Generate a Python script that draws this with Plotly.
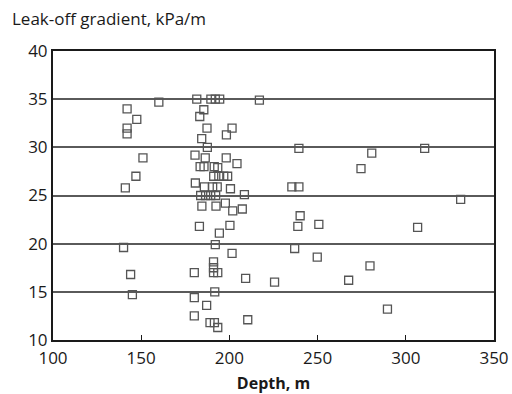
import plotly.graph_objects as go

# leak-off tests
depth = [
    160, 142, 147.5, 142, 142, 151, 147, 141, 140, 144, 145,
    181.5, 189.5, 192, 194.5, 217, 185.5, 183.2, 187.3, 201.5, 198.3,
    184.3, 187.5, 180.5, 186.3, 198.2, 204.3, 183.4, 185.6, 191.4, 193.4,
    191.1, 194.0, 196.8, 199.0, 180.7, 185.8, 190.5, 193.1, 200.6, 208.5,
    183.7, 186.5, 189.4, 192.2, 184.4, 192.4, 197.7, 201.9, 207.3,
    183, 200.3, 194.3, 192, 201.5, 191, 191, 191, 193.4, 180.1, 209.2,
    191.7, 180.1, 187.1, 180.1, 210.4, 189, 191.5, 193.4,
    225.6, 235.4, 239.4, 239.4, 240.1, 238.8, 250.7, 237, 249.8, 267.6,
    274.6, 280.7, 279.7, 289.6, 306.7, 310.7, 331.1,
]
gradient = [
    34.7, 34.0, 32.9, 32.0, 31.4, 28.9, 27.0, 25.8, 19.6, 16.8, 14.7,
    35.0, 35.0, 35.0, 35.0, 34.9, 33.9, 33.2, 32.0, 32.0, 31.3,
    30.9, 30.0, 29.2, 28.9, 28.9, 28.3, 28.0, 28.0, 28.0, 27.9,
    27.0, 27.0, 27.0, 27.0, 26.3, 25.9, 25.9, 25.9, 25.7, 25.1,
    25.0, 25.0, 25.0, 25.0, 23.9, 23.9, 24.2, 23.4, 23.6,
    21.8, 21.9, 21.1, 19.9, 19.0, 18.1, 17.5, 17.0, 17.0, 17.0, 16.4,
    15.0, 14.4, 13.6, 12.5, 12.1, 11.8, 11.8, 11.3,
    16.0, 25.9, 25.9, 29.9, 22.9, 21.8, 22.0, 19.5, 18.6, 16.2,
    27.8, 29.4, 17.7, 13.2, 21.7, 29.9, 24.6,
]

x_ticks = [100, 150, 200, 250, 300, 350]
y_ticks = [10, 15, 20, 25, 30, 35, 40]

INK = "#1a1a1a"
GRID = "#5a5a5a"

fig = go.Figure(go.Scatter(
    x=depth, y=gradient, mode="markers",
    marker=dict(symbol="square-open", size=8, color="#555555",
                line=dict(width=1.3)),
    hoverinfo="x+y"))

fig.update_xaxes(range=[100, 350], tickvals=x_ticks, showgrid=False,
                 showline=True, linecolor=INK, linewidth=2, mirror=True,
                 ticks="inside", ticklen=5, tickcolor=INK, zeroline=False,
                 automargin=False, ticklabelstandoff=2,
                 tickfont=dict(size=17, color=INK),
                 title=dict(text="<b>Depth, m</b>", font=dict(size=16, color=INK),
                            standoff=10))
fig.update_yaxes(range=[10, 40], tickvals=y_ticks, showgrid=True,
                 gridcolor=GRID, gridwidth=1.5,
                 showline=True, linecolor=INK, linewidth=2, mirror=True,
                 ticks="", zeroline=False, automargin=False,
                 tickfont=dict(size=17, color=INK))

fig.update_layout(
    width=512, height=394, showlegend=False,
    plot_bgcolor="white", paper_bgcolor="white",
    font=dict(family="Open Sans, Noto Sans, sans-serif", color=INK),
    margin=dict(l=53, r=18, t=51, b=54),
    annotations=[dict(text="Leak-off gradient, kPa/m", xref="paper", yref="paper",
                      x=-0.098, y=1.114, xanchor="left", yanchor="middle",
                      showarrow=False, font=dict(size=17, color=INK))],
)

# default page body has an 8px margin which pushes the figure past the window
fig.write_html("out.html", config={"displayModeBar": False},
               post_script="document.body.style.margin='0';")
